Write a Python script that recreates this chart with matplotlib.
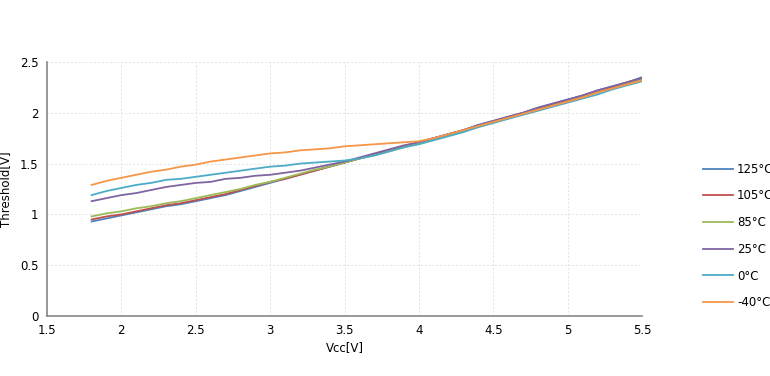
import matplotlib
matplotlib.use("Agg")
import matplotlib.pyplot as plt

vcc = [1.8, 1.9, 2.0, 2.1, 2.2, 2.3, 2.4, 2.5, 2.6, 2.7, 2.8, 2.9, 3.0, 3.1, 3.2, 3.3, 3.4, 3.5, 3.6,
       3.7, 3.8, 3.9, 4.0, 4.1, 4.2, 4.3, 4.4, 4.5, 4.6, 4.7, 4.8, 4.9, 5.0, 5.1, 5.2, 5.3, 5.4, 5.5]

t125 = [0.93, 0.96, 0.99, 1.02, 1.05, 1.08, 1.10, 1.13, 1.16, 1.19, 1.23, 1.27, 1.31, 1.35, 1.39, 1.43, 1.47, 1.51, 1.55,
        1.59, 1.63, 1.67, 1.71, 1.75, 1.79, 1.83, 1.88, 1.92, 1.96, 2.00, 2.05, 2.09, 2.13, 2.17, 2.22, 2.26, 2.30, 2.35]
t105 = [0.95, 0.98, 1.00, 1.03, 1.06, 1.09, 1.11, 1.14, 1.17, 1.20, 1.24, 1.28, 1.32, 1.35, 1.39, 1.43, 1.47, 1.51, 1.55,
        1.59, 1.63, 1.67, 1.71, 1.75, 1.79, 1.83, 1.87, 1.91, 1.96, 2.00, 2.04, 2.08, 2.12, 2.17, 2.21, 2.25, 2.30, 2.34]
t85 = [0.98, 1.01, 1.03, 1.06, 1.08, 1.11, 1.13, 1.16, 1.19, 1.22, 1.25, 1.29, 1.32, 1.36, 1.40, 1.44, 1.47, 1.51, 1.55,
       1.58, 1.62, 1.66, 1.70, 1.74, 1.78, 1.82, 1.86, 1.90, 1.95, 1.99, 2.03, 2.07, 2.11, 2.16, 2.20, 2.24, 2.28, 2.33]
t25 = [1.13, 1.16, 1.19, 1.21, 1.24, 1.27, 1.29, 1.31, 1.32, 1.35, 1.36, 1.38, 1.39, 1.41, 1.43, 1.46, 1.49, 1.52, 1.56,
       1.60, 1.64, 1.68, 1.71, 1.75, 1.79, 1.83, 1.88, 1.92, 1.96, 2.00, 2.05, 2.09, 2.13, 2.17, 2.22, 2.26, 2.30, 2.34]
t0 = [1.19, 1.23, 1.26, 1.29, 1.31, 1.34, 1.35, 1.37, 1.39, 1.41, 1.43, 1.45, 1.47, 1.48, 1.50, 1.51, 1.52, 1.53, 1.55,
      1.58, 1.62, 1.66, 1.69, 1.73, 1.77, 1.81, 1.86, 1.90, 1.94, 1.98, 2.02, 2.06, 2.10, 2.14, 2.18, 2.23, 2.27, 2.31]
tm40 = [1.29, 1.33, 1.36, 1.39, 1.42, 1.44, 1.47, 1.49, 1.52, 1.54, 1.56, 1.58, 1.60, 1.61, 1.63, 1.64, 1.65, 1.67, 1.68,
        1.69, 1.70, 1.71, 1.72, 1.75, 1.79, 1.83, 1.87, 1.91, 1.95, 1.99, 2.03, 2.07, 2.11, 2.15, 2.20, 2.24, 2.28, 2.32]

labels = ["125°C", "105°C", "85°C", "25°C", "0°C", "-40°C"]
series = [t125, t105, t85, t25, t0, tm40]
colors = ["#4F81BD", "#C0504D", "#9BBB59", "#8064A2", "#4BACC6", "#F79646"]

x_ticks = [1.5, 2, 2.5, 3, 3.5, 4, 4.5, 5, 5.5]
x_tick_labels = ["1.5", "2", "2.5", "3", "3.5", "4", "4.5", "5", "5.5"]
y_ticks = [0, 0.5, 1, 1.5, 2, 2.5]
y_tick_labels = ["0", "0.5", "1", "1.5", "2", "2.5"]

plt.rcParams['font.family'] = ['DejaVu Sans']
fig = plt.figure(figsize=(7.7, 3.76), dpi=100)
ax = fig.add_axes([47/770, 60/376, 595/770, 254/376])

for s, lab, c in zip(series, labels, colors):
    ax.plot(vcc, s, color=c, lw=1.3, label=lab)

ax.set_xlim(1.5, 5.5)
ax.set_ylim(0, 2.5)
ax.set_xticks(x_ticks)
ax.set_xticklabels(x_tick_labels)
ax.set_yticks(y_ticks)
ax.set_yticklabels(y_tick_labels)
ax.tick_params(length=0, labelsize=8.5, pad=6, colors="#000000")
ax.grid(True, color="#e3e3e3", lw=0.7, ls=(0, (2, 2)))
ax.set_axisbelow(True)
for sp in ["top", "right"]:
    ax.spines[sp].set_visible(False)
for sp in ["left", "bottom"]:
    ax.spines[sp].set_color("#888888")
    ax.spines[sp].set_linewidth(1.2)

ax.set_xlabel("Vcc[V]", fontsize=8.5, labelpad=3)
ax.set_ylabel("Threshold[V]", fontsize=8.5, labelpad=6)

leg = ax.legend(loc="upper left", bbox_to_anchor=(698/770, (376 - 158)/376), bbox_transform=fig.transFigure,
                frameon=False, fontsize=8.5, handlelength=2.6, handletextpad=0.3,
                labelspacing=1.16, borderaxespad=0)

fig.savefig("out.png", dpi=100)
